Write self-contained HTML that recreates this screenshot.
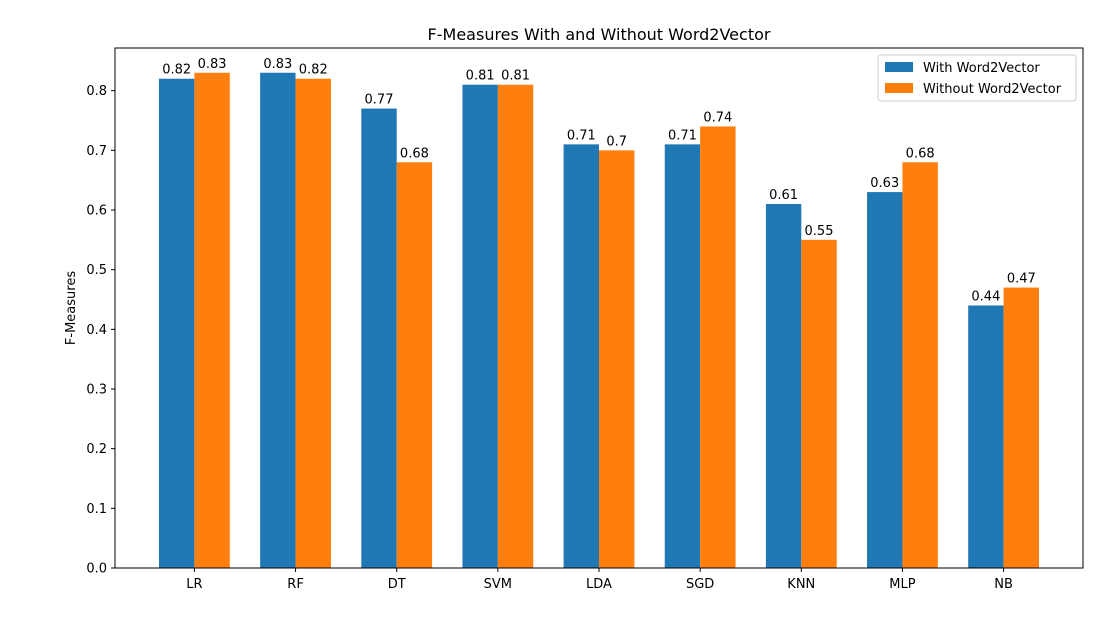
<!DOCTYPE html>
<html><head><meta charset="utf-8"><style>
body{margin:0;background:#fff;}
svg{display:block;font-family:"DejaVu Sans","Liberation Sans",sans-serif;}
</style></head><body>
<svg id="chart" width="1109" height="618" xmlns="http://www.w3.org/2000/svg"></svg>
<script>
const categories=["LR","RF","DT","SVM","LDA","SGD","KNN","MLP","NB"];
const withW2V=[0.82,0.83,0.77,0.81,0.71,0.71,0.61,0.63,0.44];
const withoutW2V=[0.83,0.82,0.68,0.81,0.70,0.74,0.55,0.68,0.47];
const yTicks=[0,0.1,0.2,0.3,0.4,0.5,0.6,0.7,0.8];
const seriesNames=["With Word2Vector","Without Word2Vector"];

const svg=document.getElementById('chart');
const NS='http://www.w3.org/2000/svg';
const L=115,R=1083,T=48,B=568;
const ymax=Math.max(...withW2V,...withoutW2V)*1.05;
const n=categories.length,bw=0.35;
const xmin=-bw-0.05*(n-1+2*bw),xmax=n-1+bw+0.05*(n-1+2*bw);
const xs=v=>L+(v-xmin)/(xmax-xmin)*(R-L);
const ys=v=>B-v/ymax*(B-T);
function el(tag,attrs,text){const e=document.createElementNS(NS,tag);for(const k in attrs)e.setAttribute(k,attrs[k]);if(text!==undefined)e.textContent=text;svg.appendChild(e);return e;}
function fmt(v){return String(+v.toFixed(2));}
const colors=['#1f77b4','#ff7f0e'];
const series=[withW2V,withoutW2V];
series.forEach((s,si)=>{
  s.forEach((v,i)=>{
    const x0=xs(i+(si===0?-bw:0)),x1=xs(i+(si===0?0:bw));
    const r=el('rect',{x:x0,y:ys(v),width:x1-x0,height:B-ys(v),fill:colors[si]});
    
    
    const t=el('text',{x:(x0+x1)/2,y:ys(v)-5,'text-anchor':'middle','font-size':13,fill:'#000'},fmt(v));
    
    
  });
});
const frame=el('rect',{x:L,y:T,width:R-L,height:B-T,fill:'none',stroke:'#000','stroke-width':1});


yTicks.forEach(v=>{
  const y=ys(v);
  const tk=el('line',{x1:L-4,x2:L,y1:y,y2:y,stroke:'#000'});
  
  
  const t=el('text',{x:L-8,y:y+4.5,'text-anchor':'end','font-size':13},v.toFixed(1));
  
  
});
categories.forEach((c,i)=>{
  const x=xs(i);
  const tk=el('line',{x1:x,x2:x,y1:B,y2:B+4,stroke:'#000'});
  
  
  const t=el('text',{x:x,y:B+20,'text-anchor':'middle','font-size':13},c);
  
  
});
const title=el('text',{x:(L+R)/2,y:40,'text-anchor':'middle','font-size':16},'F-Measures With and Without Word2Vector');


const yl=el('text',{x:0,y:0,'text-anchor':'middle','font-size':13,transform:'translate(75,'+((T+B)/2)+') rotate(-90)'},'F-Measures');


const lg=el('rect',{x:878,y:55,width:198,height:46,fill:'#fff',stroke:'#ccc',rx:3});


seriesNames.forEach((nm,i)=>{
  const y=62+i*21;
  const sw=el('rect',{x:885,y:y,width:28,height:10,fill:colors[i]});
  
  
  const t=el('text',{x:923,y:y+10,'font-size':13},nm);
  
  
});
</script>
</body></html>
